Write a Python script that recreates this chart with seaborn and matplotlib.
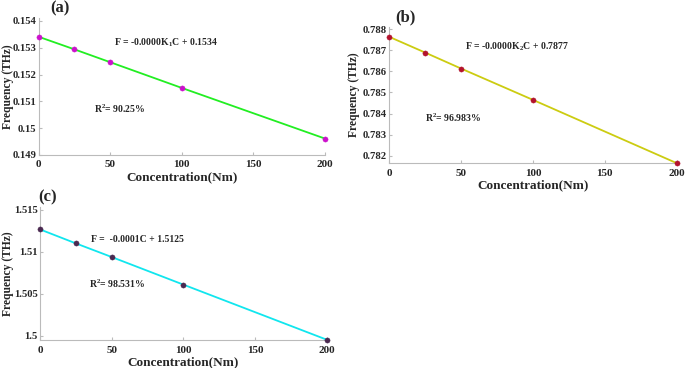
import numpy as np
import pandas as pd
import seaborn as sns
import matplotlib
import matplotlib.pyplot as plt
from matplotlib.ticker import FuncFormatter

sns.set_style("ticks")
plt.rcParams["font.family"] = ["Liberation Serif", "DejaVu Serif"]
plt.rcParams["font.weight"] = "bold"
plt.rcParams["axes.labelweight"] = "bold"
plt.rcParams["mathtext.fontset"] = "custom"
plt.rcParams["mathtext.rm"] = "Liberation Serif:bold"
plt.rcParams["mathtext.bf"] = "Liberation Serif:bold"
plt.rcParams["mathtext.default"] = "bf"

# data
conc = [0, 25, 50, 100, 200]
freq_a = [0.15341, 0.15294, 0.15246, 0.15150, 0.14961]
freq_b = [0.78765, 0.78690, 0.78614, 0.78465, 0.78164]
freq_c = [1.51264, 1.51098, 1.50936, 1.50608, 1.49954]

yticks_a = [0.149, 0.150, 0.151, 0.152, 0.153, 0.154]
yticks_b = [0.782, 0.783, 0.784, 0.785, 0.786, 0.787, 0.788]
yticks_c = [1.500, 1.505, 1.510, 1.515]
xticks = [0, 50, 100, 150, 200]

fig = plt.figure(figsize=(6.85, 3.68), dpi=100)

panels = [
    # data, axes rect, ylim, yticks, line color, marker color, tag, tag pos, eq, eq pos, r2, r2 pos, ylabel x
    (freq_a, [0.0565, 0.579, 0.418, 0.372], (0.149, 0.15411), yticks_a,
     "#22ee22", "#cc11cc", "(a)", (60, 8),
     "F = -0.0000K$_1$C + 0.1534", (166, 43), "R$^2$= 90.25%", (120, 109), 13.8),
    (freq_b, [0.568, 0.556, 0.420, 0.371], (0.78163, 0.78812), yticks_b,
     "#cccc11", "#b3132d", "(b)", (405, 17),
     "F = -0.0000K$_2$C + 0.7877", (517, 47), "R$^2$= 96.983%", (453, 118), 360),
    (freq_c, [0.0584, 0.076, 0.4186, 0.3615], (1.4995, 1.5153), yticks_c,
     "#11e6ee", "#4a2950", "(c)", (48, 197),
     "F =  -0.0001C + 1.5125", (137, 239), "R$^2$= 98.531%", (117, 284), 13.8),
]

W, H = 685, 368

for (vals, rect, ylim, yt, lc, mc, tag, tagpos, eq, eqpos, r2, r2pos, ylx) in panels:
    ax = fig.add_axes(rect)
    df = pd.DataFrame({"Concentration": conc, "Frequency": vals})
    sns.lineplot(data=df, x="Concentration", y="Frequency", ax=ax,
                 color=lc, linewidth=1.3)
    sns.scatterplot(data=df, x="Concentration", y="Frequency", ax=ax,
                    color=mc, s=14, edgecolor=mc, zorder=3, clip_on=False)
    ax.set_xlim(0, 200)
    ax.set_ylim(*ylim)
    ax.set_xticks(xticks)
    ax.set_yticks(yt)
    ax.yaxis.set_major_formatter(FuncFormatter(lambda v, p: "{:g}".format(round(v, 4))))
    ax.set_xlabel("Concentration(Nm)", fontsize=9.5, fontweight="bold", labelpad=1)
    ax.set_ylabel("Frequency (THz)", fontsize=8.4, fontweight="bold")
    # right edge of the rotated label, in figure pixels
    ax.yaxis.set_label_coords((ylx - rect[0] * W) / (rect[2] * W), 0.5)
    ax.tick_params(labelsize=7.7, direction="in", length=2, color="#bbbbbb", pad=1.5)
    ax.tick_params(axis="x", pad=4, labelsize=8)
    for lab in ax.get_xticklabels() + ax.get_yticklabels():
        lab.set_fontweight("bold")
    sns.despine(ax=ax)
    for s in ["left", "bottom"]:
        ax.spines[s].set_color("#bbbbbb")
        ax.spines[s].set_linewidth(0.8)
    fig.text(tagpos[0] / W, 1 - tagpos[1] / H, tag, fontsize=12, fontweight="bold",
             ha="center", va="center")
    fig.text(eqpos[0] / W, 1 - eqpos[1] / H, eq, fontsize=7, fontweight="bold",
             ha="center", va="center")
    fig.text(r2pos[0] / W, 1 - r2pos[1] / H, r2, fontsize=7, fontweight="bold",
             ha="center", va="center")

fig.savefig("out.png", dpi=100)
